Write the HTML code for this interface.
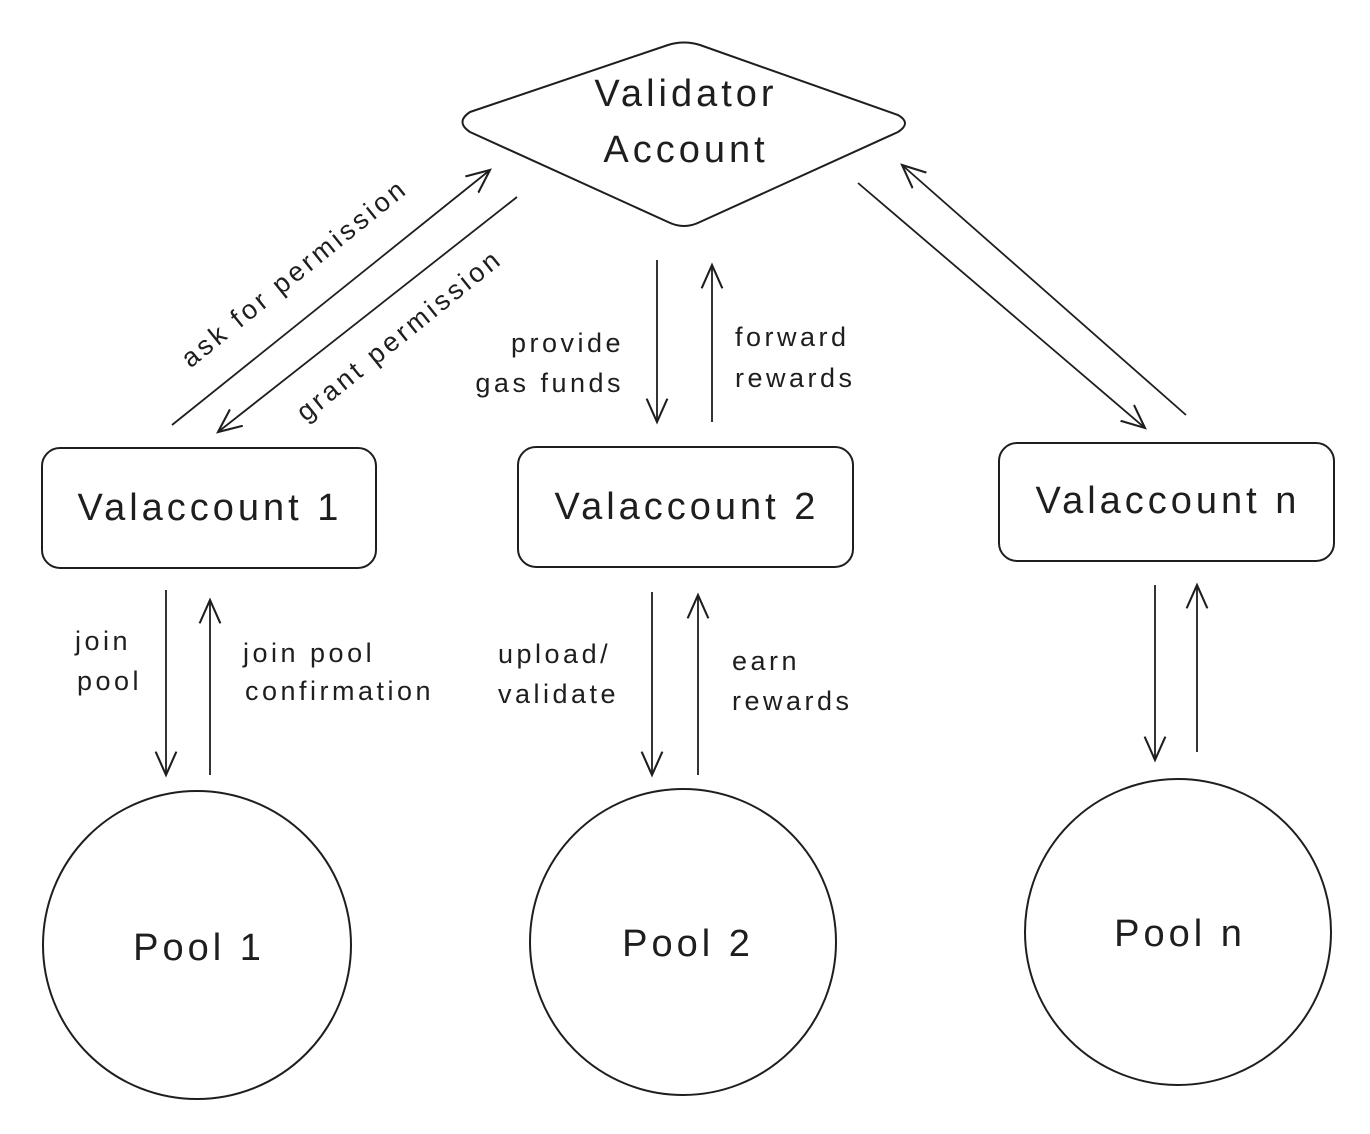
<!DOCTYPE html>
<html><head><meta charset="utf-8"><style>
html,body{margin:0;padding:0;background:#fff}
svg{display:block}
text{font-family:"Liberation Sans",sans-serif;fill:#1e1e1e}
</style></head><body>
<svg width="1370" height="1134" viewBox="0 0 1370 1134" xmlns="http://www.w3.org/2000/svg">
<defs>
<marker id="ah" viewBox="0 0 20 20" refX="18" refY="10" markerWidth="26" markerHeight="26" markerUnits="userSpaceOnUse" orient="auto">
<path d="M0,2 L18,10 L0,18" fill="none" stroke="#1e1e1e" stroke-width="1.6"/>
</marker>
</defs>
<g fill="none" stroke="#1e1e1e" stroke-width="2">
<path d="M470,112 L668,45 Q684,40 700,45 L898,115 Q912,123 898,132 L700,222 Q684,230 668,222 L470,132 Q455,122 470,112 Z"/>
<rect x="42" y="448" width="334" height="120" rx="18"/>
<rect x="518" y="447" width="335" height="120" rx="18"/>
<rect x="999" y="443" width="335" height="118" rx="18"/>
<circle cx="197" cy="945" r="154"/>
<circle cx="683" cy="942" r="153"/>
<circle cx="1178" cy="932" r="153"/>
</g>
<g fill="none" stroke="#1e1e1e" stroke-width="1.8" marker-end="url(#ah)">
<line x1="172" y1="425" x2="490" y2="170"/>
<line x1="517" y1="197" x2="218" y2="432"/>
<line x1="657" y1="260" x2="657" y2="422"/>
<line x1="712" y1="422" x2="712" y2="265"/>
<line x1="858" y1="183" x2="1145" y2="428"/>
<line x1="1186" y1="415" x2="902" y2="165"/>
<line x1="166" y1="590" x2="166" y2="775"/>
<line x1="210" y1="775" x2="210" y2="600"/>
<line x1="652" y1="592" x2="652" y2="775"/>
<line x1="698" y1="775" x2="698" y2="595"/>
<line x1="1155" y1="585" x2="1155" y2="760"/>
<line x1="1197" y1="752" x2="1197" y2="585"/>
</g>
<g font-size="38" text-anchor="middle" letter-spacing="4">
<text x="686" y="106">Validator</text>
<text x="686" y="162">Account</text>
<text x="210" y="520">Valaccount 1</text>
<text x="687" y="519">Valaccount 2</text>
<text x="1168" y="513">Valaccount n</text>
<text x="199" y="960">Pool 1</text>
<text x="688" y="956">Pool 2</text>
<text x="1180" y="946">Pool n</text>
</g>
<g font-size="27" letter-spacing="3.5">
<text transform="translate(300,280) rotate(-39)" text-anchor="middle">ask for permission</text>
<text transform="translate(405,342) rotate(-39)" text-anchor="middle">grant permission</text>
<text x="624" y="352" text-anchor="end">provide</text>
<text x="624" y="392" text-anchor="end">gas funds</text>
<text x="735" y="346">forward</text>
<text x="735" y="387">rewards</text>
<text x="75" y="650">join</text>
<text x="77" y="690">pool</text>
<text x="243" y="662">join pool</text>
<text x="245" y="700">confirmation</text>
<text x="498" y="663">upload/</text>
<text x="498" y="703">validate</text>
<text x="732" y="670">earn</text>
<text x="732" y="710">rewards</text>
</g>
</svg>
</body></html>
